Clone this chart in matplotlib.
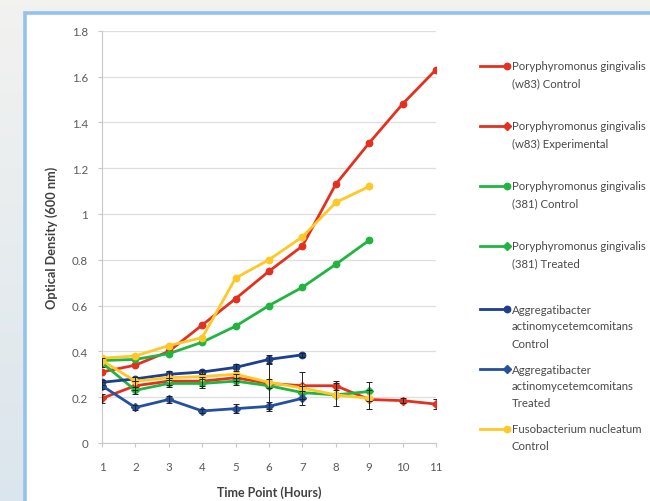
import numpy as np
import matplotlib
matplotlib.use("Agg")
import matplotlib.pyplot as plt
from matplotlib.patches import Rectangle
from matplotlib.lines import Line2D
from matplotlib.ticker import FuncFormatter

plt.rcParams["font.family"] = ["Lato", "DejaVu Sans"]

# optical density readings per time point (hours)
hours = [1, 2, 3, 4, 5, 6, 7, 8, 9, 10, 11]

pg_w83_control = [0.31, 0.34, 0.40, 0.515, 0.63, 0.75, 0.86, 1.13, 1.31, 1.48, 1.63]
pg_w83_exp = [0.195, 0.25, 0.27, 0.27, 0.285, 0.26, 0.25, 0.25, 0.19, 0.185, 0.17]
pg_w83_exp_err = [0.02, 0.02, 0.015, 0.02, 0.015, 0.02, 0.06, 0.02, 0.04, 0.01, 0.02]

pg_381_control = [0.36, 0.365, 0.39, 0.44, 0.51, 0.60, 0.68, 0.78, 0.885]
pg_381_treated = [0.35, 0.23, 0.26, 0.26, 0.27, 0.25, 0.22, 0.21, 0.225]
pg_381_treated_err = [0.02, 0.015, 0.015, 0.02, 0.015, 0.1, 0.03, 0.05, 0.04]

aa_control = [0.265, 0.28, 0.30, 0.31, 0.33, 0.365, 0.385]
aa_control_err = [0.01, 0.01, 0.015, 0.01, 0.015, 0.02, 0.01]
aa_treated = [0.25, 0.155, 0.19, 0.14, 0.15, 0.16, 0.195]
aa_treated_err = [0.015, 0.01, 0.015, 0.01, 0.02, 0.02, 0.03]

fn_control = [0.37, 0.38, 0.425, 0.46, 0.72, 0.80, 0.90, 1.05, 1.12]
fn_treated = [0.36, 0.27, 0.285, 0.29, 0.30, 0.265, 0.24, 0.21, 0.195]

RED = "#e3301f"
GREEN = "#22b441"
BLUE = "#1c3f8e"
BLUE2 = "#24519f"
YELLOW = "#ffc826"

# (label, values, errors, colour, marker, in legend)
series = [
    ("Poryphyromonus gingivalis\n(w83) Control", pg_w83_control, None, RED, "o", True),
    ("Poryphyromonus gingivalis\n(w83) Experimental", pg_w83_exp, pg_w83_exp_err, RED, "D", True),
    ("Poryphyromonus gingivalis\n(381) Control", pg_381_control, None, GREEN, "o", True),
    ("Poryphyromonus gingivalis\n(381) Treated", pg_381_treated, pg_381_treated_err, GREEN, "D", True),
    ("Aggregatibacter\nactinomycetemcomitans\nControl", aa_control, aa_control_err, BLUE, "o", True),
    ("Aggregatibacter\nactinomycetemcomitans\nTreated", aa_treated, aa_treated_err, BLUE2, "D", True),
    ("Fusobacterium nucleatum\nControl", fn_control, None, YELLOW, "o", True),
    ("Fusobacterium nucleatum\nTreated", fn_treated, None, YELLOW, "D", False),
]

W, H = 650, 502
fig = plt.figure(figsize=(W / 100, H / 100), dpi=100)

# soft grey page behind the chart frame
bg = fig.add_axes([0, 0, 1, 1], zorder=-10)
grad = np.linspace(0, 1, 256)[:, None]
top_c = np.array([0.95, 0.95, 0.94])
bot_c = np.array([0.86, 0.90, 0.93])
img = top_c + (bot_c - top_c) * grad[:, :, None]
bg.imshow(img, aspect="auto", extent=[0, 1, 0, 1])
bg.set_axis_off()

frame = Rectangle((25 / W, -0.1), 1.0, 1 - 13.5 / H + 0.1, transform=fig.transFigure,
                  facecolor="white", edgecolor="#93c2ea", linewidth=2.6, zorder=-5)
fig.add_artist(frame)

ax = fig.add_axes([102 / W, 1 - 444 / H, 334 / W, (444 - 31.7) / H])
ax.set_facecolor("none")

for label, vals, err, col, mk, _ in series:
    x = hours[:len(vals)]
    ms = 4.6 if mk == "o" else 3.8
    ax.plot(x, vals, color=col, lw=2.0, marker=mk, ms=ms, mec=col, mfc=col, zorder=3)
    if err is not None:
        ax.errorbar(x, vals, yerr=err, fmt="none", ecolor="#222222", elinewidth=0.7,
                    capsize=2.2, capthick=0.7, zorder=4)

ax.set_xlim(1, 11)
ax.set_ylim(0, 1.8)
ax.set_xticks(hours)
ax.set_yticks(np.arange(0, 1.81, 0.2))
ax.yaxis.set_major_formatter(FuncFormatter(lambda v, p: f"{v:g}"))
ax.grid(axis="y", color="#dedede", lw=0.9)
ax.set_axisbelow(True)
for s in ["top", "right"]:
    ax.spines[s].set_visible(False)
ax.spines["left"].set_color("#c8c8c8")
ax.spines["bottom"].set_color("#c8c8c8")
ax.tick_params(axis="both", colors="#c8c8c8", labelcolor="#5a5a5a", labelsize=8.3,
               length=3, width=0.8)
ax.tick_params(axis="x", pad=10)
ax.tick_params(axis="y", pad=7)

ax.set_xlabel("Time Point (Hours)", fontsize=9, fontweight="bold", color="#404040")
ax.set_ylabel("Optical Density (600 nm)", fontsize=9.2, fontweight="bold", color="#404040")
ax.xaxis.set_label_coords(0.5, -0.103)
ax.yaxis.set_label_coords(-0.132, 0.5)

# legend entries down the right side
leg_y = [67, 127, 187, 247, 310, 370, 430]
i = 0
for label, vals, err, col, mk, show in series:
    if not show:
        continue
    y = 1 - leg_y[i] / H
    fig.add_artist(Line2D([480 / W, 507 / W], [y, y], transform=fig.transFigure,
                          color=col, lw=2.0))
    ms = 4.6 if mk == "o" else 3.8
    fig.add_artist(Line2D([507 / W], [y], transform=fig.transFigure, color=col,
                          marker=mk, ms=ms, mec=col, mfc=col, lw=0))
    for j, line in enumerate(label.split("\n")):
        fig.text(512 / W, y - j * 17 / H, line, fontsize=8.2, color="#4a4a4a",
                 va="center", ha="left")
    i += 1

fig.savefig("out.png", dpi=100)
